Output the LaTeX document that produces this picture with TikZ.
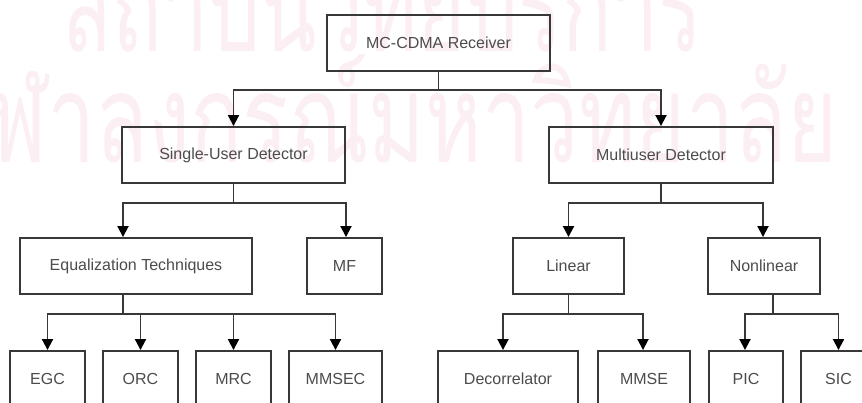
\documentclass[tikz,border=0pt]{standalone}
\usepackage{fontspec}
\setmainfont{Liberation Sans}
\newfontfamily\thaifont[Script=Thai]{Loma}
\usetikzlibrary{arrows.meta}

\definecolor{inkline}{RGB}{56,56,56}
\definecolor{inktext}{RGB}{76,76,76}
\definecolor{wmpink}{RGB}{252,239,244}

\tikzset{
  box/.style={draw=inkline, line width=1.9pt, minimum height=56pt,
              inner sep=0pt, text=inktext,
              font=\fontsize{16}{19}\selectfont},
  link/.style={draw=inkline, line width=1.9pt},
  arr/.style={link, -{Triangle[length=11pt,width=11pt,color=black,fill=black]}},
  wmark/.style={text=wmpink, inner sep=0pt, font=\thaifont\fontsize{123}{130}\selectfont}
}

\begin{document}
\begin{tikzpicture}[x=1pt, y=-1pt]
  \clip (0,0) rectangle (862,403);
  \fill[white] (0,0) rectangle (862,403);

  % background watermark
  \node[wmark, anchor=base west, xscale=0.67, transform shape] (wm1) at (62,52) {สถาบันวิทยบริการ};
  \node[wmark, anchor=base east, xscale=0.70, transform shape] (wm2) at (838,163) {จุฬาลงกรณ์มหาวิทยาลัย};

  % level 0
  \node[box, minimum width=223pt] (root) at (438.5,43) {MC-CDMA Receiver};

  % level 1
  \node[box, minimum width=223pt] (sud) at (233.5,155) {Single-User Detector};
  \node[box, minimum width=224pt] (mud) at (661,155) {Multiuser Detector};

  % level 2
  \node[box, minimum width=232pt] (eq)  at (136,266)   {Equalization Techniques};
  \node[box, minimum width=75pt]  (mf)  at (344.5,266) {MF};
  \node[box, minimum width=111pt] (lin) at (568.5,266) {Linear};
  \node[box, minimum width=112pt] (nl)  at (764,266)   {Nonlinear};

  % level 3
  \node[box, minimum width=75pt]  (egc)   at (47.5,379)  {EGC};
  \node[box, minimum width=75pt]  (orc)   at (140.5,379) {ORC};
  \node[box, minimum width=75pt]  (mrc)   at (233.5,379) {MRC};
  \node[box, minimum width=93pt]  (mmsec) at (335.5,379) {MMSEC};
  \node[box, minimum width=140pt] (dec)   at (508,379)   {Decorrelator};
  \node[box, minimum width=92pt]  (mmse)  at (644,379)   {MMSE};
  \node[box, minimum width=74pt]  (pic)   at (746,379)   {PIC};
  \node[box, minimum width=75pt]  (sic)   at (838.5,379) {SIC};

  % each connector: stem down from the parent, across, then down to the child
  % root branches
  \draw[arr] (root.south) -- ++(0,18) -| (sud.north);
  \draw[arr] (root.south) -- ++(0,18) -| (mud.north);

  % single-user branches
  \draw[arr] (sud.south) -- ++(0,19) -| ([xshift=-13pt]eq.north);
  \draw[arr] (sud.south) -- ++(0,19) -| ([xshift=1.5pt]mf.north);

  % multiuser branches
  \draw[arr] (mud.south) -- ++(0,19) -| (lin.north);
  \draw[arr] (mud.south) -- ++(0,19) -| ([xshift=-1pt]nl.north);

  % equalization techniques
  \draw[arr] ([xshift=-13pt]eq.south) -- ++(0,19) -| (egc.north);
  \draw[arr] ([xshift=-13pt]eq.south) -- ++(0,19) -| (orc.north);
  \draw[arr] ([xshift=-13pt]eq.south) -- ++(0,19) -| (mrc.north);
  \draw[arr] ([xshift=-13pt]eq.south) -- ++(0,19) -| (mmsec.north);

  % linear detectors
  \draw[arr] (lin.south) -- ++(0,19) -| ([xshift=-5pt]dec.north);
  \draw[arr] (lin.south) -- ++(0,19) -| ([xshift=-1pt]mmse.north);

  % nonlinear detectors
  \draw[arr] ([xshift=9pt]nl.south) -- ++(0,19) -| ([xshift=-1pt]pic.north);
  \draw[arr] ([xshift=9pt]nl.south) -- ++(0,19) -| (sic.north);
\end{tikzpicture}
\end{document}
